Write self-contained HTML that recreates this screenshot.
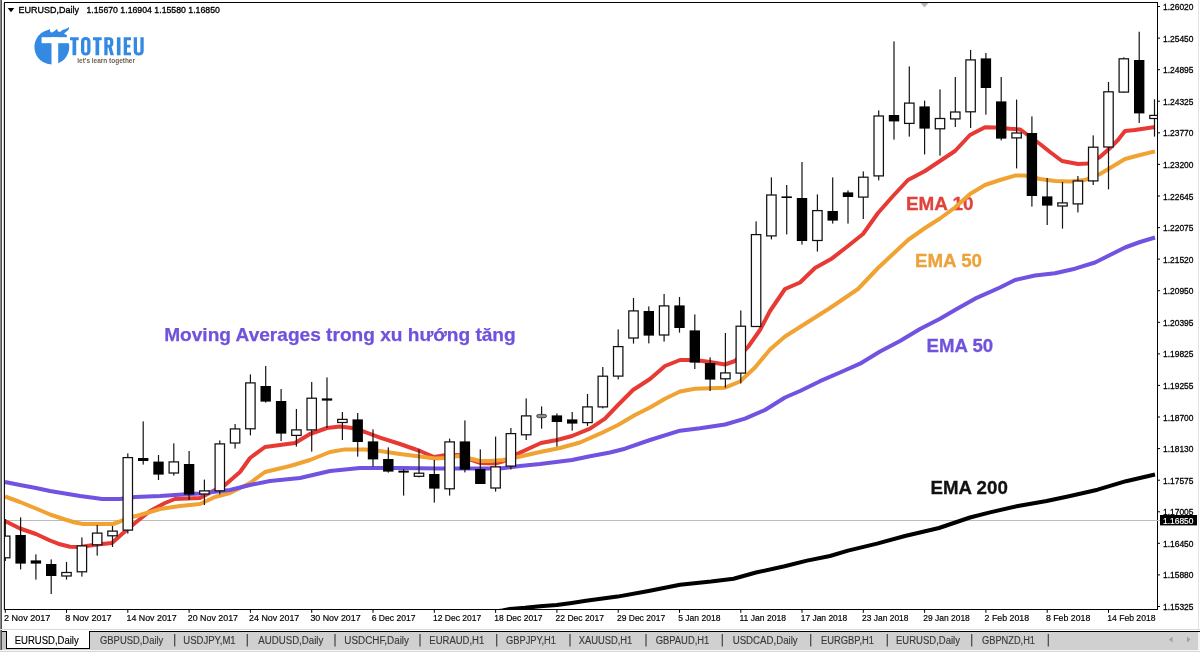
<!DOCTYPE html>
<html><head><meta charset="utf-8"><title>EURUSD Daily</title>
<style>
html,body{margin:0;padding:0;background:#fff;}
body{width:1200px;height:652px;overflow:hidden;font-family:"Liberation Sans",sans-serif;}
svg{display:block;opacity:0.999;will-change:transform;}
text{font-family:"Liberation Sans",sans-serif;}
</style></head><body>
<svg width="1200" height="652" viewBox="0 0 1200 652">
<rect x="0" y="0" width="1200" height="652" fill="#fff"/>
<defs><clipPath id="plot"><rect x="4.5" y="3" width="1153" height="606"/></clipPath></defs>

<rect x="0" y="0" width="1" height="630" fill="#888"/><rect x="1" y="0" width="1" height="630" fill="#505050"/><rect x="3" y="3" width="1" height="607" fill="#d4d4d4"/>
<rect x="1198" y="0" width="1" height="630" fill="#e4e4e4"/>
<g clip-path="url(#plot)">
<rect x="4" y="520" width="1154" height="1" fill="#bcbcbc"/>
<text x="906" y="209.7" font-size="18.5" font-weight="bold" textLength="67.5" lengthAdjust="spacingAndGlyphs" fill="#E2423C" stroke="#E2423C" stroke-width="0.3">EMA 10</text>
<path d="M490.0,612.0 L502.5,610.5 L510.0,608.9 L525.0,607.8 L540.0,606.3 L556.7,604.9 L571.7,602.9 L586.0,600.8 L617.5,596.6 L648.6,591.0 L680.0,584.7 L711.0,581.6 L733.6,578.7 L756.0,572.5 L784.6,566.3 L807.0,560.6 L830.0,556.0 L848.0,550.6 L877.0,543.6 L905.0,536.0 L939.0,528.0 L970.0,517.5 L990.0,512.4 L1018.0,506.0 L1046.6,501.0 L1069.0,496.3 L1097.6,489.7 L1126.0,481.2 L1155.0,474.5" fill="none" stroke="#000" stroke-width="4" stroke-linejoin="round" stroke-linecap="butt"/>
<path d="M5.0,521.0 L20.0,528.5 L36.0,534.0 L50.0,540.5 L60.0,544.3 L70.0,546.8 L80.0,547.0 L97.0,544.6 L112.0,543.0 L122.0,534.0 L135.0,523.0 L150.0,511.0 L165.0,503.0 L175.0,499.0 L200.0,498.0 L215.0,490.0 L225.0,485.0 L240.0,472.0 L250.0,458.0 L265.0,447.0 L280.0,445.0 L295.0,443.0 L310.0,434.0 L327.0,428.0 L340.0,426.5 L352.0,428.0 L365.0,432.0 L380.0,437.6 L400.0,444.0 L420.0,451.0 L434.0,457.0 L442.0,455.6 L458.0,455.0 L472.0,460.0 L480.0,463.0 L495.0,463.6 L504.0,461.0 L518.0,453.6 L530.0,448.0 L541.0,443.0 L557.0,440.0 L572.0,436.0 L590.0,428.7 L605.0,418.7 L618.0,405.0 L633.0,390.0 L650.0,379.0 L665.0,366.0 L680.0,360.0 L695.0,360.0 L710.0,362.0 L725.0,364.5 L735.0,361.0 L748.0,347.0 L760.0,330.0 L770.0,311.0 L785.0,289.0 L800.0,282.5 L815.0,268.0 L832.0,258.4 L848.0,246.0 L863.0,234.0 L878.0,213.0 L893.0,196.0 L908.0,180.0 L925.0,171.0 L940.0,161.0 L955.0,151.0 L970.0,135.0 L985.0,127.2 L995.0,127.5 L1010.0,128.8 L1020.0,129.4 L1025.0,133.0 L1040.0,144.0 L1050.0,152.0 L1062.0,161.0 L1078.0,164.0 L1088.0,163.6 L1100.0,157.0 L1110.0,148.0 L1118.0,140.0 L1125.0,131.0 L1135.0,130.0 L1155.0,127.0" fill="none" stroke="#E73A34" stroke-width="4" stroke-linejoin="round" stroke-linecap="butt"/>
<path d="M5.0,496.5 L20.0,502.0 L36.0,508.5 L50.0,514.5 L65.0,519.5 L75.0,522.5 L83.0,524.0 L113.0,524.0 L120.0,521.5 L126.0,518.5 L140.0,515.0 L160.0,509.0 L180.0,506.0 L200.0,504.0 L215.0,497.0 L230.0,493.0 L250.0,483.0 L265.0,472.0 L290.0,466.0 L310.0,460.0 L330.0,452.0 L345.0,449.4 L365.0,449.6 L380.0,451.0 L400.0,454.0 L420.0,456.6 L435.0,458.4 L445.0,458.0 L458.0,456.0 L472.0,459.0 L480.0,461.0 L490.0,461.0 L503.0,460.0 L518.0,457.0 L540.0,452.0 L560.0,448.0 L580.0,442.5 L600.0,433.7 L618.0,425.0 L635.0,415.0 L650.0,407.5 L665.0,398.7 L680.0,391.5 L695.0,388.8 L710.0,388.2 L725.0,387.7 L740.0,381.5 L755.0,367.5 L770.0,349.5 L785.0,336.5 L800.0,327.0 L830.0,308.0 L858.0,289.0 L878.0,268.0 L893.0,254.0 L908.0,240.0 L925.0,228.0 L940.0,218.5 L955.0,207.5 L970.0,194.0 L985.0,185.0 L1000.0,180.0 L1015.0,175.6 L1025.0,175.6 L1040.0,179.0 L1055.0,181.0 L1070.0,181.4 L1085.0,180.0 L1100.0,174.0 L1110.0,168.0 L1125.0,159.0 L1140.0,155.0 L1155.0,151.4" fill="none" stroke="#F0A232" stroke-width="4" stroke-linejoin="round" stroke-linecap="butt"/>
<path d="M5.0,482.0 L20.0,485.0 L36.0,488.0 L50.0,491.0 L65.0,493.5 L80.0,496.0 L95.0,498.0 L102.0,499.0 L120.0,499.0 L135.0,497.0 L160.0,496.0 L190.0,494.0 L200.0,493.6 L230.0,490.0 L250.0,485.0 L270.0,481.0 L300.0,478.0 L330.0,471.0 L345.0,469.5 L360.0,468.0 L400.0,468.0 L440.0,468.6 L480.0,468.6 L500.0,468.4 L520.0,466.0 L540.0,464.0 L560.0,461.5 L572.0,460.0 L590.0,456.2 L610.0,452.5 L625.0,448.7 L650.0,440.0 L680.0,430.7 L700.0,428.2 L725.0,424.5 L745.0,418.7 L765.0,410.0 L785.0,397.5 L800.0,391.0 L820.0,381.2 L840.0,372.5 L860.0,363.7 L880.0,351.5 L900.0,341.0 L920.0,329.0 L940.0,318.7 L955.0,310.0 L975.0,298.7 L1000.0,287.5 L1015.0,280.0 L1035.0,275.5 L1055.0,273.2 L1075.0,268.7 L1095.0,262.5 L1110.0,255.0 L1125.0,247.5 L1140.0,242.0 L1155.0,237.5" fill="none" stroke="#7252E0" stroke-width="4" stroke-linejoin="round" stroke-linecap="butt"/>
<rect x="4.7" y="519.0" width="1.2" height="42.0" fill="#151515"/>
<rect x="0.5" y="536.1" width="9.4" height="21.7" fill="#fff" stroke="#111" stroke-width="1.25"/>
<rect x="20.0" y="517.4" width="1.2" height="52.0" fill="#151515"/>
<rect x="15.4" y="535.0" width="10.4" height="28.6" fill="#000"/>
<rect x="35.3" y="554.4" width="1.2" height="25.2" fill="#151515"/>
<rect x="30.7" y="560.4" width="10.4" height="3.2" fill="#000"/>
<rect x="50.6" y="559.4" width="1.2" height="34.6" fill="#151515"/>
<rect x="46.0" y="564.0" width="10.4" height="12.0" fill="#000"/>
<rect x="65.9" y="562.0" width="1.2" height="17.6" fill="#151515"/>
<rect x="61.8" y="572.5" width="9.4" height="3.5" fill="#fff" stroke="#111" stroke-width="1.25"/>
<rect x="81.3" y="537.4" width="1.2" height="39.2" fill="#151515"/>
<rect x="77.2" y="545.9" width="9.4" height="25.9" fill="#fff" stroke="#111" stroke-width="1.25"/>
<rect x="96.6" y="525.0" width="1.2" height="30.6" fill="#151515"/>
<rect x="92.5" y="533.1" width="9.4" height="11.7" fill="#fff" stroke="#111" stroke-width="1.25"/>
<rect x="111.9" y="526.0" width="1.2" height="21.0" fill="#151515"/>
<rect x="107.8" y="531.1" width="9.4" height="4.7" fill="#fff" stroke="#111" stroke-width="1.25"/>
<rect x="127.2" y="453.4" width="1.2" height="80.2" fill="#151515"/>
<rect x="123.1" y="457.6" width="9.4" height="72.5" fill="#fff" stroke="#111" stroke-width="1.25"/>
<rect x="142.6" y="421.4" width="1.2" height="43.2" fill="#151515"/>
<rect x="138.0" y="458.0" width="10.4" height="3.0" fill="#000"/>
<rect x="157.9" y="455.0" width="1.2" height="25.0" fill="#151515"/>
<rect x="153.3" y="461.6" width="10.4" height="13.0" fill="#000"/>
<rect x="173.2" y="443.4" width="1.2" height="32.2" fill="#151515"/>
<rect x="169.1" y="461.9" width="9.4" height="11.1" fill="#fff" stroke="#111" stroke-width="1.25"/>
<rect x="188.5" y="451.0" width="1.2" height="49.0" fill="#151515"/>
<rect x="183.9" y="464.0" width="10.4" height="30.6" fill="#000"/>
<rect x="203.8" y="479.6" width="1.2" height="25.4" fill="#151515"/>
<rect x="199.7" y="490.9" width="9.4" height="3.1" fill="#fff" stroke="#111" stroke-width="1.25"/>
<rect x="219.2" y="440.4" width="1.2" height="54.0" fill="#151515"/>
<rect x="215.1" y="443.9" width="9.4" height="46.9" fill="#fff" stroke="#111" stroke-width="1.25"/>
<rect x="234.5" y="424.0" width="1.2" height="24.6" fill="#151515"/>
<rect x="230.4" y="428.9" width="9.4" height="14.1" fill="#fff" stroke="#111" stroke-width="1.25"/>
<rect x="249.8" y="374.4" width="1.2" height="61.0" fill="#151515"/>
<rect x="245.7" y="382.9" width="9.4" height="45.9" fill="#fff" stroke="#111" stroke-width="1.25"/>
<rect x="265.1" y="366.0" width="1.2" height="36.6" fill="#151515"/>
<rect x="260.5" y="386.0" width="10.4" height="15.6" fill="#000"/>
<rect x="280.5" y="389.0" width="1.2" height="52.0" fill="#151515"/>
<rect x="275.9" y="401.0" width="10.4" height="32.6" fill="#000"/>
<rect x="295.8" y="409.0" width="1.2" height="37.6" fill="#151515"/>
<rect x="291.7" y="429.9" width="9.4" height="5.5" fill="#fff" stroke="#111" stroke-width="1.25"/>
<rect x="311.1" y="382.0" width="1.2" height="69.6" fill="#151515"/>
<rect x="307.0" y="398.2" width="9.4" height="31.7" fill="#fff" stroke="#111" stroke-width="1.25"/>
<rect x="326.4" y="377.4" width="1.2" height="50.6" fill="#151515"/>
<rect x="321.8" y="398.4" width="10.4" height="2.2" fill="#000"/>
<rect x="341.8" y="412.0" width="1.2" height="28.0" fill="#151515"/>
<rect x="337.7" y="419.4" width="9.4" height="3.1" fill="#fff" stroke="#111" stroke-width="1.25"/>
<rect x="357.1" y="413.0" width="1.2" height="43.6" fill="#151515"/>
<rect x="352.5" y="419.4" width="10.4" height="22.6" fill="#000"/>
<rect x="372.4" y="429.4" width="1.2" height="37.2" fill="#151515"/>
<rect x="367.8" y="441.4" width="10.4" height="18.0" fill="#000"/>
<rect x="387.7" y="447.4" width="1.2" height="25.2" fill="#151515"/>
<rect x="383.1" y="459.0" width="10.4" height="12.6" fill="#000"/>
<rect x="403.0" y="469.4" width="1.2" height="26.2" fill="#151515"/>
<rect x="398.4" y="470.6" width="10.4" height="2.0" fill="#000"/>
<rect x="418.4" y="449.4" width="1.2" height="28.0" fill="#151515"/>
<rect x="414.3" y="473.2" width="9.4" height="3.1" fill="#fff" stroke="#111" stroke-width="1.25"/>
<rect x="433.7" y="460.0" width="1.2" height="42.6" fill="#151515"/>
<rect x="429.1" y="474.0" width="10.4" height="14.6" fill="#000"/>
<rect x="449.0" y="438.6" width="1.2" height="57.0" fill="#151515"/>
<rect x="444.9" y="441.9" width="9.4" height="46.9" fill="#fff" stroke="#111" stroke-width="1.25"/>
<rect x="464.3" y="420.4" width="1.2" height="52.0" fill="#151515"/>
<rect x="459.7" y="441.4" width="10.4" height="28.2" fill="#000"/>
<rect x="479.7" y="449.4" width="1.2" height="34.6" fill="#151515"/>
<rect x="475.1" y="469.0" width="10.4" height="15.0" fill="#000"/>
<rect x="495.0" y="436.6" width="1.2" height="55.0" fill="#151515"/>
<rect x="490.9" y="466.9" width="9.4" height="21.1" fill="#fff" stroke="#111" stroke-width="1.25"/>
<rect x="510.3" y="428.0" width="1.2" height="41.4" fill="#151515"/>
<rect x="506.2" y="433.6" width="9.4" height="32.5" fill="#fff" stroke="#111" stroke-width="1.25"/>
<rect x="525.6" y="398.4" width="1.2" height="41.6" fill="#151515"/>
<rect x="521.5" y="415.9" width="9.4" height="18.9" fill="#fff" stroke="#111" stroke-width="1.25"/>
<rect x="541.0" y="406.4" width="1.2" height="22.2" fill="#151515"/>
<rect x="536.7" y="414.4" width="9.8" height="3.3" rx="1.6" fill="#8c8c8c" stroke="#333" stroke-width="0.8"/>
<rect x="556.3" y="413.4" width="1.2" height="33.2" fill="#151515"/>
<rect x="551.7" y="415.4" width="10.4" height="6.6" fill="#000"/>
<rect x="571.6" y="412.0" width="1.2" height="18.6" fill="#151515"/>
<rect x="567.0" y="419.4" width="10.4" height="4.2" fill="#000"/>
<rect x="586.9" y="394.0" width="1.2" height="32.0" fill="#151515"/>
<rect x="582.8" y="406.9" width="9.4" height="15.7" fill="#fff" stroke="#111" stroke-width="1.25"/>
<rect x="602.2" y="367.0" width="1.2" height="41.4" fill="#151515"/>
<rect x="598.1" y="376.2" width="9.4" height="30.7" fill="#fff" stroke="#111" stroke-width="1.25"/>
<rect x="617.6" y="329.4" width="1.2" height="50.0" fill="#151515"/>
<rect x="613.5" y="346.6" width="9.4" height="29.5" fill="#fff" stroke="#111" stroke-width="1.25"/>
<rect x="632.9" y="298.0" width="1.2" height="45.6" fill="#151515"/>
<rect x="628.8" y="310.9" width="9.4" height="27.1" fill="#fff" stroke="#111" stroke-width="1.25"/>
<rect x="648.2" y="306.4" width="1.2" height="37.0" fill="#151515"/>
<rect x="643.6" y="311.0" width="10.4" height="24.6" fill="#000"/>
<rect x="663.5" y="294.0" width="1.2" height="47.6" fill="#151515"/>
<rect x="659.4" y="305.9" width="9.4" height="29.1" fill="#fff" stroke="#111" stroke-width="1.25"/>
<rect x="678.9" y="297.0" width="1.2" height="35.6" fill="#151515"/>
<rect x="674.3" y="305.4" width="10.4" height="22.6" fill="#000"/>
<rect x="694.2" y="314.4" width="1.2" height="54.6" fill="#151515"/>
<rect x="689.6" y="330.4" width="10.4" height="32.2" fill="#000"/>
<rect x="709.5" y="357.4" width="1.2" height="33.6" fill="#151515"/>
<rect x="704.9" y="363.0" width="10.4" height="16.6" fill="#000"/>
<rect x="724.8" y="333.0" width="1.2" height="54.6" fill="#151515"/>
<rect x="720.7" y="372.9" width="9.4" height="5.9" fill="#fff" stroke="#111" stroke-width="1.25"/>
<rect x="740.2" y="310.4" width="1.2" height="73.0" fill="#151515"/>
<rect x="736.1" y="326.2" width="9.4" height="46.9" fill="#fff" stroke="#111" stroke-width="1.25"/>
<rect x="755.5" y="221.4" width="1.2" height="105.6" fill="#151515"/>
<rect x="751.4" y="234.6" width="9.4" height="91.9" fill="#fff" stroke="#111" stroke-width="1.25"/>
<rect x="770.8" y="177.4" width="1.2" height="62.0" fill="#151515"/>
<rect x="766.7" y="195.0" width="9.4" height="40.9" fill="#fff" stroke="#111" stroke-width="1.25"/>
<rect x="786.1" y="185.0" width="1.2" height="49.4" fill="#151515"/>
<rect x="781.5" y="196.4" width="10.4" height="1.6" fill="#000"/>
<rect x="801.4" y="162.0" width="1.2" height="82.6" fill="#151515"/>
<rect x="796.8" y="198.0" width="10.4" height="43.0" fill="#000"/>
<rect x="816.8" y="194.4" width="1.2" height="57.2" fill="#151515"/>
<rect x="812.7" y="210.6" width="9.4" height="29.9" fill="#fff" stroke="#111" stroke-width="1.25"/>
<rect x="832.1" y="177.4" width="1.2" height="46.2" fill="#151515"/>
<rect x="827.5" y="211.0" width="10.4" height="9.6" fill="#000"/>
<rect x="847.4" y="190.4" width="1.2" height="33.2" fill="#151515"/>
<rect x="842.8" y="192.4" width="10.4" height="4.6" fill="#000"/>
<rect x="862.7" y="171.4" width="1.2" height="47.6" fill="#151515"/>
<rect x="858.6" y="177.2" width="9.4" height="19.9" fill="#fff" stroke="#111" stroke-width="1.25"/>
<rect x="878.1" y="110.4" width="1.2" height="70.0" fill="#151515"/>
<rect x="874.0" y="116.0" width="9.4" height="59.9" fill="#fff" stroke="#111" stroke-width="1.25"/>
<rect x="893.4" y="41.4" width="1.2" height="98.2" fill="#151515"/>
<rect x="888.8" y="115.0" width="10.4" height="6.4" fill="#000"/>
<rect x="908.7" y="66.4" width="1.2" height="70.2" fill="#151515"/>
<rect x="904.6" y="103.1" width="9.4" height="20.3" fill="#fff" stroke="#111" stroke-width="1.25"/>
<rect x="924.0" y="100.6" width="1.2" height="53.8" fill="#151515"/>
<rect x="919.4" y="106.4" width="10.4" height="22.2" fill="#000"/>
<rect x="939.4" y="89.4" width="1.2" height="66.2" fill="#151515"/>
<rect x="935.3" y="118.5" width="9.4" height="10.3" fill="#fff" stroke="#111" stroke-width="1.25"/>
<rect x="954.7" y="77.0" width="1.2" height="50.0" fill="#151515"/>
<rect x="950.6" y="112.0" width="9.4" height="6.9" fill="#fff" stroke="#111" stroke-width="1.25"/>
<rect x="970.0" y="50.0" width="1.2" height="78.0" fill="#151515"/>
<rect x="965.9" y="59.9" width="9.4" height="51.9" fill="#fff" stroke="#111" stroke-width="1.25"/>
<rect x="985.3" y="53.0" width="1.2" height="61.6" fill="#151515"/>
<rect x="980.7" y="58.4" width="10.4" height="29.6" fill="#000"/>
<rect x="1000.6" y="77.0" width="1.2" height="63.4" fill="#151515"/>
<rect x="996.0" y="101.4" width="10.4" height="37.2" fill="#000"/>
<rect x="1016.0" y="99.6" width="1.2" height="68.8" fill="#151515"/>
<rect x="1011.9" y="133.0" width="9.4" height="4.9" fill="#fff" stroke="#111" stroke-width="1.25"/>
<rect x="1031.3" y="116.4" width="1.2" height="90.2" fill="#151515"/>
<rect x="1026.7" y="133.0" width="10.4" height="63.0" fill="#000"/>
<rect x="1046.6" y="178.0" width="1.2" height="47.0" fill="#151515"/>
<rect x="1042.0" y="196.4" width="10.4" height="9.2" fill="#000"/>
<rect x="1061.9" y="182.0" width="1.2" height="46.6" fill="#151515"/>
<rect x="1057.8" y="202.9" width="9.4" height="3.1" fill="#fff" stroke="#111" stroke-width="1.25"/>
<rect x="1077.3" y="176.0" width="1.2" height="36.4" fill="#151515"/>
<rect x="1073.2" y="181.0" width="9.4" height="22.9" fill="#fff" stroke="#111" stroke-width="1.25"/>
<rect x="1092.6" y="135.4" width="1.2" height="49.6" fill="#151515"/>
<rect x="1088.5" y="147.2" width="9.4" height="33.7" fill="#fff" stroke="#111" stroke-width="1.25"/>
<rect x="1107.9" y="82.0" width="1.2" height="107.4" fill="#151515"/>
<rect x="1103.8" y="91.8" width="9.4" height="55.2" fill="#fff" stroke="#111" stroke-width="1.25"/>
<rect x="1123.2" y="57.3" width="1.2" height="35.4" fill="#151515"/>
<rect x="1119.1" y="58.8" width="9.4" height="33.3" fill="#fff" stroke="#111" stroke-width="1.25"/>
<rect x="1138.6" y="31.7" width="1.2" height="91.3" fill="#151515"/>
<rect x="1134.0" y="60.0" width="10.4" height="53.4" fill="#000"/>
<rect x="1153.9" y="99.3" width="1.2" height="37.3" fill="#151515"/>
<rect x="1149.8" y="115.4" width="9.4" height="3.1" fill="#fff" stroke="#111" stroke-width="1.25"/>
</g>
<rect x="4" y="2" width="1154" height="1" fill="#000"/>
<rect x="4" y="2" width="1" height="608" fill="#111"/>
<rect x="1157" y="2" width="1" height="608" fill="#000"/>
<rect x="4" y="609" width="1154" height="1" fill="#000"/>
<rect x="1157" y="520" width="3" height="1" fill="#c4c4c4"/>
<path d="M920.5,3 L928.5,3 L924.5,7.5 Z" fill="#b8b8b8"/>
<rect x="1158" y="6.0" width="2" height="1" fill="#000"/>
<text x="1163" y="10.0" font-size="9.8" textLength="30.5" lengthAdjust="spacingAndGlyphs" fill="#000" stroke="#000" stroke-width="0.3">1.26020</text>
<rect x="1158" y="37.6" width="2" height="1" fill="#000"/>
<text x="1163" y="41.6" font-size="9.8" textLength="30.5" lengthAdjust="spacingAndGlyphs" fill="#000" stroke="#000" stroke-width="0.3">1.25450</text>
<rect x="1158" y="69.2" width="2" height="1" fill="#000"/>
<text x="1163" y="73.2" font-size="9.8" textLength="30.5" lengthAdjust="spacingAndGlyphs" fill="#000" stroke="#000" stroke-width="0.3">1.24895</text>
<rect x="1158" y="100.7" width="2" height="1" fill="#000"/>
<text x="1163" y="104.7" font-size="9.8" textLength="30.5" lengthAdjust="spacingAndGlyphs" fill="#000" stroke="#000" stroke-width="0.3">1.24325</text>
<rect x="1158" y="132.3" width="2" height="1" fill="#000"/>
<text x="1163" y="136.3" font-size="9.8" textLength="30.5" lengthAdjust="spacingAndGlyphs" fill="#000" stroke="#000" stroke-width="0.3">1.23770</text>
<rect x="1158" y="163.9" width="2" height="1" fill="#000"/>
<text x="1163" y="167.9" font-size="9.8" textLength="30.5" lengthAdjust="spacingAndGlyphs" fill="#000" stroke="#000" stroke-width="0.3">1.23200</text>
<rect x="1158" y="195.5" width="2" height="1" fill="#000"/>
<text x="1163" y="199.5" font-size="9.8" textLength="30.5" lengthAdjust="spacingAndGlyphs" fill="#000" stroke="#000" stroke-width="0.3">1.22645</text>
<rect x="1158" y="227.1" width="2" height="1" fill="#000"/>
<text x="1163" y="231.1" font-size="9.8" textLength="30.5" lengthAdjust="spacingAndGlyphs" fill="#000" stroke="#000" stroke-width="0.3">1.22075</text>
<rect x="1158" y="258.6" width="2" height="1" fill="#000"/>
<text x="1163" y="262.6" font-size="9.8" textLength="30.5" lengthAdjust="spacingAndGlyphs" fill="#000" stroke="#000" stroke-width="0.3">1.21520</text>
<rect x="1158" y="290.2" width="2" height="1" fill="#000"/>
<text x="1163" y="294.2" font-size="9.8" textLength="30.5" lengthAdjust="spacingAndGlyphs" fill="#000" stroke="#000" stroke-width="0.3">1.20950</text>
<rect x="1158" y="321.8" width="2" height="1" fill="#000"/>
<text x="1163" y="325.8" font-size="9.8" textLength="30.5" lengthAdjust="spacingAndGlyphs" fill="#000" stroke="#000" stroke-width="0.3">1.20395</text>
<rect x="1158" y="353.4" width="2" height="1" fill="#000"/>
<text x="1163" y="357.4" font-size="9.8" textLength="30.5" lengthAdjust="spacingAndGlyphs" fill="#000" stroke="#000" stroke-width="0.3">1.19825</text>
<rect x="1158" y="384.9" width="2" height="1" fill="#000"/>
<text x="1163" y="388.9" font-size="9.8" textLength="30.5" lengthAdjust="spacingAndGlyphs" fill="#000" stroke="#000" stroke-width="0.3">1.19255</text>
<rect x="1158" y="416.5" width="2" height="1" fill="#000"/>
<text x="1163" y="420.5" font-size="9.8" textLength="30.5" lengthAdjust="spacingAndGlyphs" fill="#000" stroke="#000" stroke-width="0.3">1.18700</text>
<rect x="1158" y="448.1" width="2" height="1" fill="#000"/>
<text x="1163" y="452.1" font-size="9.8" textLength="30.5" lengthAdjust="spacingAndGlyphs" fill="#000" stroke="#000" stroke-width="0.3">1.18130</text>
<rect x="1158" y="479.7" width="2" height="1" fill="#000"/>
<text x="1163" y="483.7" font-size="9.8" textLength="30.5" lengthAdjust="spacingAndGlyphs" fill="#000" stroke="#000" stroke-width="0.3">1.17575</text>
<rect x="1158" y="511.3" width="2" height="1" fill="#000"/>
<text x="1163" y="515.3" font-size="9.8" textLength="30.5" lengthAdjust="spacingAndGlyphs" fill="#000" stroke="#000" stroke-width="0.3">1.17005</text>
<rect x="1158" y="542.8" width="2" height="1" fill="#000"/>
<text x="1163" y="546.8" font-size="9.8" textLength="30.5" lengthAdjust="spacingAndGlyphs" fill="#000" stroke="#000" stroke-width="0.3">1.16450</text>
<rect x="1158" y="574.4" width="2" height="1" fill="#000"/>
<text x="1163" y="578.4" font-size="9.8" textLength="30.5" lengthAdjust="spacingAndGlyphs" fill="#000" stroke="#000" stroke-width="0.3">1.15880</text>
<rect x="1158" y="606.0" width="2" height="1" fill="#000"/>
<text x="1163" y="610.0" font-size="9.8" textLength="30.5" lengthAdjust="spacingAndGlyphs" fill="#000" stroke="#000" stroke-width="0.3">1.15325</text>
<rect x="1160" y="515" width="37" height="10.4" fill="#000"/>
<text x="1163" y="523.8" font-size="9.8" textLength="30.5" lengthAdjust="spacingAndGlyphs" fill="#fff" stroke="#fff" stroke-width="0.2">1.16850</text>
<rect x="4.8" y="610" width="1" height="2.8" fill="#000"/>
<text x="4.0" y="621.3" font-size="9.9" textLength="46.4" lengthAdjust="spacingAndGlyphs" fill="#000" stroke="#000" stroke-width="0.2">2 Nov 2017</text>
<rect x="66.0" y="610" width="1" height="2.8" fill="#000"/>
<text x="65.2" y="621.3" font-size="9.9" textLength="46.4" lengthAdjust="spacingAndGlyphs" fill="#000" stroke="#000" stroke-width="0.2">8 Nov 2017</text>
<rect x="127.3" y="610" width="1" height="2.8" fill="#000"/>
<text x="126.5" y="621.3" font-size="9.9" textLength="50.2" lengthAdjust="spacingAndGlyphs" fill="#000" stroke="#000" stroke-width="0.2">14 Nov 2017</text>
<rect x="188.6" y="610" width="1" height="2.8" fill="#000"/>
<text x="187.8" y="621.3" font-size="9.9" textLength="50.2" lengthAdjust="spacingAndGlyphs" fill="#000" stroke="#000" stroke-width="0.2">20 Nov 2017</text>
<rect x="249.9" y="610" width="1" height="2.8" fill="#000"/>
<text x="249.1" y="621.3" font-size="9.9" textLength="50.2" lengthAdjust="spacingAndGlyphs" fill="#000" stroke="#000" stroke-width="0.2">24 Nov 2017</text>
<rect x="311.2" y="610" width="1" height="2.8" fill="#000"/>
<text x="310.4" y="621.3" font-size="9.9" textLength="50.2" lengthAdjust="spacingAndGlyphs" fill="#000" stroke="#000" stroke-width="0.2">30 Nov 2017</text>
<rect x="372.5" y="610" width="1" height="2.8" fill="#000"/>
<text x="371.7" y="621.3" font-size="9.9" textLength="43.7" lengthAdjust="spacingAndGlyphs" fill="#000" stroke="#000" stroke-width="0.2">6 Dec 2017</text>
<rect x="433.8" y="610" width="1" height="2.8" fill="#000"/>
<text x="433.0" y="621.3" font-size="9.9" textLength="48.3" lengthAdjust="spacingAndGlyphs" fill="#000" stroke="#000" stroke-width="0.2">12 Dec 2017</text>
<rect x="495.1" y="610" width="1" height="2.8" fill="#000"/>
<text x="494.3" y="621.3" font-size="9.9" textLength="48.3" lengthAdjust="spacingAndGlyphs" fill="#000" stroke="#000" stroke-width="0.2">18 Dec 2017</text>
<rect x="556.4" y="610" width="1" height="2.8" fill="#000"/>
<text x="555.6" y="621.3" font-size="9.9" textLength="48.3" lengthAdjust="spacingAndGlyphs" fill="#000" stroke="#000" stroke-width="0.2">22 Dec 2017</text>
<rect x="617.7" y="610" width="1" height="2.8" fill="#000"/>
<text x="616.9" y="621.3" font-size="9.9" textLength="48.3" lengthAdjust="spacingAndGlyphs" fill="#000" stroke="#000" stroke-width="0.2">29 Dec 2017</text>
<rect x="679.0" y="610" width="1" height="2.8" fill="#000"/>
<text x="678.2" y="621.3" font-size="9.9" textLength="42.3" lengthAdjust="spacingAndGlyphs" fill="#000" stroke="#000" stroke-width="0.2">5 Jan 2018</text>
<rect x="740.3" y="610" width="1" height="2.8" fill="#000"/>
<text x="739.5" y="621.3" font-size="9.9" textLength="46.5" lengthAdjust="spacingAndGlyphs" fill="#000" stroke="#000" stroke-width="0.2">11 Jan 2018</text>
<rect x="801.5" y="610" width="1" height="2.8" fill="#000"/>
<text x="800.7" y="621.3" font-size="9.9" textLength="46.5" lengthAdjust="spacingAndGlyphs" fill="#000" stroke="#000" stroke-width="0.2">17 Jan 2018</text>
<rect x="862.8" y="610" width="1" height="2.8" fill="#000"/>
<text x="862.0" y="621.3" font-size="9.9" textLength="46.5" lengthAdjust="spacingAndGlyphs" fill="#000" stroke="#000" stroke-width="0.2">23 Jan 2018</text>
<rect x="924.1" y="610" width="1" height="2.8" fill="#000"/>
<text x="923.3" y="621.3" font-size="9.9" textLength="46.5" lengthAdjust="spacingAndGlyphs" fill="#000" stroke="#000" stroke-width="0.2">29 Jan 2018</text>
<rect x="985.4" y="610" width="1" height="2.8" fill="#000"/>
<text x="984.6" y="621.3" font-size="9.9" textLength="44.5" lengthAdjust="spacingAndGlyphs" fill="#000" stroke="#000" stroke-width="0.2">2 Feb 2018</text>
<rect x="1046.7" y="610" width="1" height="2.8" fill="#000"/>
<text x="1045.9" y="621.3" font-size="9.9" textLength="44.5" lengthAdjust="spacingAndGlyphs" fill="#000" stroke="#000" stroke-width="0.2">8 Feb 2018</text>
<rect x="1108.0" y="610" width="1" height="2.8" fill="#000"/>
<text x="1107.2" y="621.3" font-size="9.9" textLength="48.3" lengthAdjust="spacingAndGlyphs" fill="#000" stroke="#000" stroke-width="0.2">14 Feb 2018</text>
<path d="M7.7,8.1 L14.3,8.1 L11,12.3 Z" fill="#000"/>
<text x="18.4" y="13" font-size="9.8" stroke="#000" stroke-width="0.35" textLength="60.5" lengthAdjust="spacingAndGlyphs" fill="#000">EURUSD,Daily</text>
<text x="86.4" y="13" font-size="9.8" stroke="#000" stroke-width="0.35" textLength="133.5" lengthAdjust="spacingAndGlyphs" fill="#000">1.15670 1.16904 1.15580 1.16850</text>
<text x="164.2" y="340.8" font-size="18.2" font-weight="bold" textLength="351.5" lengthAdjust="spacingAndGlyphs" fill="#7052DC" stroke="#7052DC" stroke-width="0.25">Moving Averages trong xu hướng tăng</text>
<text x="915" y="266.9" font-size="18.4" font-weight="bold" textLength="67" lengthAdjust="spacingAndGlyphs" fill="#EDA23A" stroke="#EDA23A" stroke-width="0.3">EMA 50</text>
<text x="926.6" y="352.1" font-size="18.4" font-weight="bold" textLength="66.6" lengthAdjust="spacingAndGlyphs" fill="#7052DC" stroke="#7052DC" stroke-width="0.3">EMA 50</text>
<text x="930.5" y="494.1" font-size="18.4" font-weight="bold" textLength="77.3" lengthAdjust="spacingAndGlyphs" fill="#111" stroke="#111" stroke-width="0.3">EMA 200</text>
<g fill="#3489E2">
<path d="M47,30.3 L48.1,30 L49.8,29 Q49.9,30.8 50.3,31.4 Q50.9,32.4 51.6,32.4 Q53,32.2 54.6,31 L57.2,28.7 Q57.3,30.4 57.9,31.1 Q58.7,32.2 59.5,32.1 Q61,31.5 62.5,30.1 L65.6,28.9 Q68,28.2 69,27 Q69.3,28.3 68.7,29.3 Q68,30.4 67.1,31.1 L64.8,32.9 Q63.9,33.6 64.1,34.1 Q65,34.1 66.2,34.7 L67.1,35.4 L66.6,37.5 L68.3,37.5 L68.8,43.2 A17.4,17.4 0 1 1 47,30.3 Z"/>
<rect x="41.6" y="37.2" width="28" height="6" fill="#fff"/>
<rect x="51.5" y="37.2" width="6.7" height="28" fill="#fff"/>
<!-- T -->
<path d="M70,37.3 H78.7 V40.3 H76.2 V55.3 H72.5 V40.3 H70 Z"/>
<!-- O -->
<path fill-rule="evenodd" d="M85.75,37.1 C88.9,37.1 90.5,38.9 90.5,41.6 V51 C90.5,53.7 88.9,55.5 85.75,55.5 C82.6,55.5 81,53.7 81,51 V41.6 C81,38.9 82.6,37.1 85.75,37.1 Z M85.75,40 C84.7,40 84.3,40.6 84.3,41.6 V51 C84.3,52 84.7,52.6 85.75,52.6 C86.8,52.6 87.2,52 87.2,51 V41.6 C87.2,40.6 86.8,40 85.75,40 Z"/>
<!-- T -->
<path d="M93,37.3 H101.7 V40.3 H99.2 V55.3 H95.5 V40.3 H93 Z"/>
<!-- R -->
<path fill-rule="evenodd" d="M104.3,37.3 H109.2 C112,37.3 113.3,38.8 113.3,41.3 V43.4 C113.3,45.1 112.7,46.2 111.5,46.8 L113.9,55.3 H110.5 L108.4,47.5 H107.6 V55.3 H104.3 Z M107.6,40.1 V44.8 H108.8 C109.7,44.8 110.1,44.3 110.1,43.3 V41.6 C110.1,40.6 109.7,40.1 108.8,40.1 Z"/>
<!-- I -->
<rect x="116.9" y="37.3" width="3.6" height="18"/>
<!-- E -->
<path d="M123.7,37.3 H131 V40.2 H127 V44.8 H130.3 V47.6 H127 V52.4 H131 V55.3 H123.7 Z"/>
<!-- U -->
<path d="M133.7,37.3 H137 V51 C137,52 137.5,52.6 138.7,52.6 C139.9,52.6 140.4,52 140.4,51 V37.3 H143.7 V51 C143.7,53.8 142,55.5 138.7,55.5 C135.4,55.5 133.7,53.8 133.7,51 Z"/>
</g>
<text x="77.3" y="63.1" font-size="7.8" font-weight="bold" textLength="57.7" lengthAdjust="spacingAndGlyphs" fill="#6e5f54">let's learn together</text>
<rect x="0" y="629" width="1200" height="1" fill="#d8d8d8"/>
<rect x="0" y="632" width="1198" height="18" fill="#d0d0d0"/>
<rect x="0" y="631" width="1200" height="1" fill="#000"/>
<rect x="0" y="630" width="1" height="20" fill="#888"/><rect x="1" y="630" width="1" height="20" fill="#505050"/>
<rect x="2" y="632" width="4" height="17" fill="#c4c4c4"/>
<rect x="0" y="650" width="1200" height="1" fill="#f8f8f8"/><rect x="0" y="651" width="1200" height="1" fill="#d6d6d6"/>
<rect x="1198" y="632" width="2" height="18" fill="#f4f4f4"/>
<rect x="6" y="631" width="84" height="18" fill="#000"/>
<rect x="7" y="630" width="82" height="18" fill="#fff"/>
<text x="14.7" y="643.5" font-size="10" textLength="64" lengthAdjust="spacingAndGlyphs" fill="#000" stroke="#000" stroke-width="0.15">EURUSD,Daily</text>
<text x="100" y="643.5" font-size="10" textLength="63.3" lengthAdjust="spacingAndGlyphs" fill="#3a3a3a" stroke="#3a3a3a" stroke-width="0.15">GBPUSD,Daily</text>
<rect x="174.1" y="634" width="1.2" height="12.5" fill="#444"/>
<text x="183.3" y="643.5" font-size="10" textLength="52.4" lengthAdjust="spacingAndGlyphs" fill="#3a3a3a" stroke="#3a3a3a" stroke-width="0.15">USDJPY,M1</text>
<rect x="246.7" y="634" width="1.2" height="12.5" fill="#444"/>
<text x="258.3" y="643.5" font-size="10" textLength="65.0" lengthAdjust="spacingAndGlyphs" fill="#3a3a3a" stroke="#3a3a3a" stroke-width="0.15">AUDUSD,Daily</text>
<rect x="334.4" y="634" width="1.2" height="12.5" fill="#444"/>
<text x="344.3" y="643.5" font-size="10" textLength="64.7" lengthAdjust="spacingAndGlyphs" fill="#3a3a3a" stroke="#3a3a3a" stroke-width="0.15">USDCHF,Daily</text>
<rect x="419.4" y="634" width="1.2" height="12.5" fill="#444"/>
<text x="429.3" y="643.5" font-size="10" textLength="55.0" lengthAdjust="spacingAndGlyphs" fill="#3a3a3a" stroke="#3a3a3a" stroke-width="0.15">EURAUD,H1</text>
<rect x="496.1" y="634" width="1.2" height="12.5" fill="#444"/>
<text x="506" y="643.5" font-size="10" textLength="50.0" lengthAdjust="spacingAndGlyphs" fill="#3a3a3a" stroke="#3a3a3a" stroke-width="0.15">GBPJPY,H1</text>
<rect x="569.4" y="634" width="1.2" height="12.5" fill="#444"/>
<text x="578.7" y="643.5" font-size="10" textLength="53.6" lengthAdjust="spacingAndGlyphs" fill="#3a3a3a" stroke="#3a3a3a" stroke-width="0.15">XAUUSD,H1</text>
<rect x="645.4" y="634" width="1.2" height="12.5" fill="#444"/>
<text x="655.7" y="643.5" font-size="10" textLength="53.6" lengthAdjust="spacingAndGlyphs" fill="#3a3a3a" stroke="#3a3a3a" stroke-width="0.15">GBPAUD,H1</text>
<rect x="721.7" y="634" width="1.2" height="12.5" fill="#444"/>
<text x="732.7" y="643.5" font-size="10" textLength="65.0" lengthAdjust="spacingAndGlyphs" fill="#3a3a3a" stroke="#3a3a3a" stroke-width="0.15">USDCAD,Daily</text>
<rect x="810.1" y="634" width="1.2" height="12.5" fill="#444"/>
<text x="821" y="643.5" font-size="10" textLength="53.0" lengthAdjust="spacingAndGlyphs" fill="#3a3a3a" stroke="#3a3a3a" stroke-width="0.15">EURGBP,H1</text>
<rect x="886.7" y="634" width="1.2" height="12.5" fill="#444"/>
<text x="896" y="643.5" font-size="10" textLength="64.0" lengthAdjust="spacingAndGlyphs" fill="#3a3a3a" stroke="#3a3a3a" stroke-width="0.15">EURUSD,Daily</text>
<rect x="971.1" y="634" width="1.2" height="12.5" fill="#444"/>
<text x="982" y="643.5" font-size="10" textLength="53.0" lengthAdjust="spacingAndGlyphs" fill="#3a3a3a" stroke="#3a3a3a" stroke-width="0.15">GBPNZD,H1</text>
<rect x="1047.7" y="634" width="1.2" height="12.5" fill="#444"/>
<path d="M1172.5,636.5 L1169,639.5 L1172.5,642.5 Z" fill="#a0a0a0"/>
<path d="M1187,636.5 L1190.5,639.5 L1187,642.5 Z" fill="#a0a0a0"/>
</svg></body></html>
